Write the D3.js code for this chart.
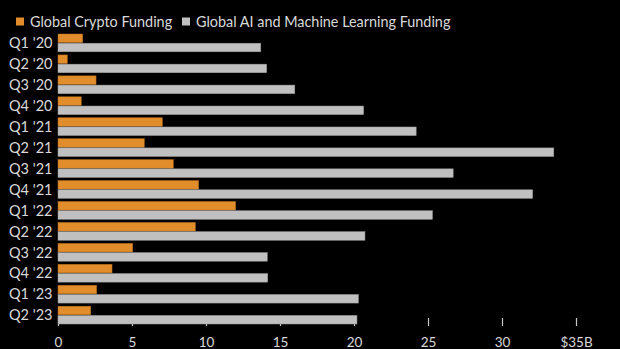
<!DOCTYPE html>
<html>
<head>
<meta charset="utf-8">
<script src="https://cdn.jsdelivr.net/npm/d3@7"></script>
<style>
  html, body { margin: 0; padding: 0; background: #000; }
  svg { display: block; }
  text { font-family: Lato, "Open Sans", sans-serif; }
</style>
</head>
<body>
<svg id="chart" width="620" height="349"></svg>
<script>
// Quarterly venture funding, billions of US dollars
const quarters = ["Q1 '20", "Q2 '20", "Q3 '20", "Q4 '20", "Q1 '21", "Q2 '21", "Q3 '21",
                  "Q4 '21", "Q1 '22", "Q2 '22", "Q3 '22", "Q4 '22", "Q1 '23", "Q2 '23"];
const cryptoFunding = [1.67, 0.63, 2.57, 1.57, 7.05, 5.83, 7.79, 9.5, 12.0, 9.28, 5.05, 3.65, 2.61, 2.21];
const aiFunding = [13.7, 14.1, 16.0, 20.65, 24.2, 33.5, 26.7, 32.07, 25.3, 20.74, 14.14, 14.17, 20.3, 20.2];
const seriesNames = ["Global Crypto Funding", "Global AI and Machine Learning Funding"];
const xTicks = [0, 5, 10, 15, 20, 25, 30, 35];

const colors = ["#e28d2b", "#c0c0c0"];
const textColor = "#d9d9d9";
const svg = d3.select("#chart");

const rows = quarters.map((q, i) => ({ q, values: [cryptoFunding[i], aiFunding[i]] }));

const x = d3.scaleLinear().domain([0, 35]).range([58, 576]);
const y = d3.scaleBand().domain(quarters).range([34, 324]).paddingInner(0.15).paddingOuter(0);
const sub = d3.scaleBand().domain([0, 1]).range([0, y.bandwidth()]).paddingInner(0.07);

// Legend
const legend = svg.append("g");
const legendX = [16, 182];
seriesNames.forEach((name, i) => {
  legend.append("rect")
    .attr("x", legendX[i]).attr("y", 17.5).attr("width", 8).attr("height", 8)
    .attr("fill", colors[i]);
  legend.append("text")
    .attr("x", legendX[i] + 14).attr("y", 26.5)
    .attr("fill", textColor)
    .style("font-size", "14.4px")
    .text(name);
});

// X axis: short ticks under the bars plus value labels
const xAxis = d3.axisBottom(x)
  .tickValues(xTicks)
  .tickSize(8)
  .tickPadding(11)
  .tickFormat(d => d === 35 ? "$35B" : d);
const axisG = svg.append("g")
  .attr("transform", "translate(0,318)")
  .call(xAxis);
axisG.select(".domain").remove();
axisG.selectAll(".tick line").attr("stroke", "#c8c8c8").attr("stroke-width", 1.2);
axisG.selectAll(".tick text")
  .attr("fill", textColor)
  .style("font-size", "13.5px")
  .style("font-family", "Lato, 'Open Sans', sans-serif");

// Bars
const groups = svg.append("g").selectAll("g")
  .data(rows).join("g")
  .attr("transform", d => `translate(0,${y(d.q)})`);

groups.selectAll("rect")
  .data(d => d.values.map((v, k) => ({ v, k })))
  .join("rect")
  .attr("x", x(0))
  .attr("y", d => sub(d.k))
  .attr("width", d => x(d.v) - x(0))
  .attr("height", sub.bandwidth())
  .attr("fill", d => colors[d.k])
  .attr("stroke", d => d.k === 0 ? "#b8711f" : "#9a9a9a")
  .attr("stroke-width", 0.5);

// Category labels
svg.append("g").selectAll("text")
  .data(quarters).join("text")
  .attr("x", 52.5)
  .attr("y", d => y(d) + y.bandwidth() / 2)
  .attr("dy", "0.36em")
  .attr("text-anchor", "end")
  .attr("fill", textColor)
  .style("font-size", "14.5px")
  .text(d => d);
</script>
</body>
</html>
